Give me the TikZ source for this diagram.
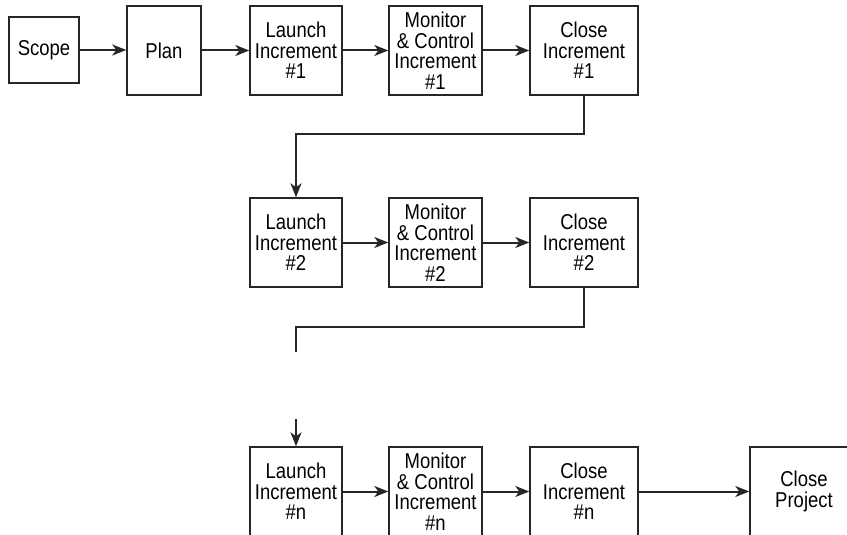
\documentclass[tikz,border=0pt]{standalone}
\usepackage{fontspec}
\setmainfont[FakeStretch=0.86]{Liberation Sans}
\usetikzlibrary{arrows.meta}
\begin{document}
\begin{tikzpicture}[x=1pt,y=-1pt,
  box/.style={draw=black!85,line width=1.4pt,rectangle,minimum height=89pt,inner sep=0pt,align=center,font=\fontsize{21.5}{20.5}\selectfont},
  arr/.style={draw=black!85,line width=2pt,-{Stealth[length=14pt,width=11pt,inset=4pt]}},
  ln/.style={draw=black!85,line width=2pt}]
\useasboundingbox (0,0) rectangle (847,535);
\clip (0,0) rectangle (847,535);
\node[box,minimum width=70pt,minimum height=66pt] (scope) at (44,50) {Scope};
\node[box,minimum width=74pt] (plan) at (164,50.5) {Plan};
\node[box,minimum width=92pt] (l1) at (296,50.5) {Launch\\Increment\\\#1};
\node[box,minimum width=93pt] (m1) at (435.5,50.5) {Monitor\\\& Control\\Increment\\\#1};
\node[box,minimum width=108pt] (c1) at (584,50.5) {Close\\Increment\\\#1};
\node[box,minimum width=92pt] (l2) at (296,242.5) {Launch\\Increment\\\#2};
\node[box,minimum width=93pt] (m2) at (435.5,242.5) {Monitor\\\& Control\\Increment\\\#2};
\node[box,minimum width=108pt] (c2) at (584,242.5) {Close\\Increment\\\#2};
\node[box,minimum width=92pt] (l3) at (296,491.5) {Launch\\Increment\\\#n};
\node[box,minimum width=93pt] (m3) at (435.5,491.5) {Monitor\\\& Control\\Increment\\\#n};
\node[box,minimum width=108pt] (c3) at (584,491.5) {Close\\Increment\\\#n};
\node[box,minimum width=108pt] (cp) at (804,491.5) {Close\\Project};
\coordinate (e2) at (296,352);
\coordinate (s3) at (296,419);
\draw[arr] (scope.east) -- (plan.west |- scope.east);
\draw[arr] (plan.east) -- (l1.west);
\draw[arr] (l1.east) -- (m1.west);
\draw[arr] (m1.east) -- (c1.west);
\draw[arr] (c1.south) -- (584,134) -| (l2.north);
\draw[arr] (l2.east) -- (m2.west);
\draw[arr] (m2.east) -- (c2.west);
\draw[ln] (c2.south) -- (584,327) -| (e2);
\draw[arr] (s3) -- (l3.north);
\draw[arr] (l3.east) -- (m3.west);
\draw[arr] (m3.east) -- (c3.west);
\draw[arr] (c3.east) -- (cp.west);
\end{tikzpicture}
\end{document}
